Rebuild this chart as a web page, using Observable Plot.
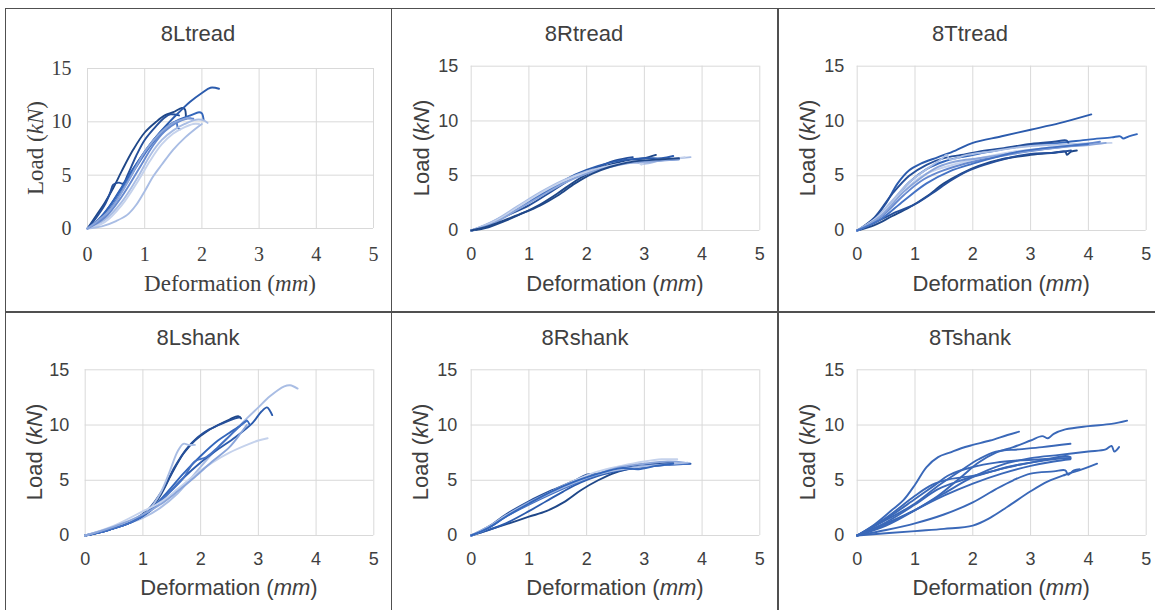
<!DOCTYPE html>
<html><head><meta charset="utf-8">
<script src="https://cdn.jsdelivr.net/npm/d3@7"></script>
<script src="https://cdn.jsdelivr.net/npm/@observablehq/plot@0.6"></script>
<style>
html,body{margin:0;padding:0;background:#fff;}
#root{position:relative;width:1155px;height:610px;overflow:hidden;background:#fff;}
.lbl{position:absolute;white-space:nowrap;line-height:1;color:#404040;font-size:22px;}
.bd{position:absolute;background:#505050;}
</style></head><body><div id="root"></div>
<script>
// ---------- data ----------
const xTicks = [0, 1, 2, 3, 4, 5];
const yTicks = [0, 5, 10, 15];
const panelTitles = ["8Ltread", "8Rtread", "8Ttread", "8Lshank", "8Rshank", "8Tshank"];
const xLabel = "Deformation (<i>mm</i>)";
const yLabel = "Load (<i>kN</i>)";

// each curve: [deformation mm, load kN] pairs
const Ltread = [
  [[0,0],[0.15,1.2],[0.3,2.4],[0.45,3.8],[0.6,5.4],[0.8,7.4],[1.0,9.0],[1.2,10.0],[1.35,10.6],[1.5,10.9],[1.65,11.3],[1.7,11.2],[1.72,10.5]],
  [[0,0],[0.15,1.0],[0.3,2.2],[0.4,3.4],[0.45,4.1],[0.55,4.3],[0.62,4.2],[0.7,5.0],[0.85,6.8],[1.0,8.3],[1.2,9.6],[1.35,10.4],[1.45,10.7],[1.6,10.6]],
  [[0,0],[0.2,0.8],[0.4,2.2],[0.6,3.9],[0.8,5.6],[1.0,7.2],[1.2,8.6],[1.4,9.8],[1.6,10.9],[1.8,11.9],[2.0,12.7],[2.15,13.2],[2.3,13.1]],
  [[0,0],[0.2,0.9],[0.4,2.2],[0.6,3.8],[0.8,5.6],[1.0,7.2],[1.2,8.6],[1.4,9.6],[1.6,10.2],[1.8,10.6],[1.95,10.9],[2.0,10.8],[2.03,10.2]],
  [[0,0],[0.2,0.7],[0.4,1.9],[0.6,3.5],[0.8,5.3],[1.0,7.0],[1.2,8.4],[1.4,9.4],[1.55,10.0],[1.58,9.4],[1.62,9.3]],
  [[0,0],[0.3,0.8],[0.6,2.5],[0.9,5.0],[1.1,6.9],[1.3,8.3],[1.5,9.2],[1.7,9.8],[1.9,10.2],[2.05,10.1],[2.1,9.9]],
  [[0,0],[0.3,0.6],[0.6,2.2],[0.9,4.6],[1.1,6.4],[1.3,7.9],[1.5,8.9],[1.7,9.5],[1.85,9.8],[1.95,9.8]],
  [[0,0],[0.25,0.2],[0.5,0.7],[0.7,1.3],[0.85,2.2],[1.0,3.5],[1.15,4.9],[1.3,6.0],[1.5,7.4],[1.7,8.5],[1.9,9.4],[2.0,9.8]],
  [[0,0],[0.3,1.0],[0.6,3.0],[0.9,5.6],[1.15,7.8],[1.35,9.1],[1.55,9.9],[1.75,10.3],[1.85,10.3]],
  [[0,0],[0.4,1.8],[0.7,4.3],[1.0,7.2],[1.3,9.1],[1.5,9.9],[1.7,10.3],[1.8,10.4]]
];
const Rtread = [
  [[0,0],[0.3,0.3],[0.6,0.9],[0.9,1.6],[1.2,2.4],[1.5,3.4],[1.8,4.5],[2.1,5.4],[2.4,6.0],[2.7,6.4],[3.0,6.6],[3.2,6.9]],
  [[0,0],[0.3,0.5],[0.6,1.3],[1.0,2.3],[1.4,3.6],[1.8,4.9],[2.2,5.8],[2.5,6.4],[2.8,6.7]],
  [[0,0],[0.3,0.6],[0.7,1.7],[1.0,2.6],[1.4,3.9],[1.8,5.1],[2.2,5.9],[2.6,6.4],[3.0,6.6],[3.3,6.6],[3.5,6.8]],
  [[0,0],[0.4,0.8],[0.8,2.0],[1.2,3.2],[1.6,4.4],[2.0,5.3],[2.4,5.9],[2.8,6.3],[3.2,6.4],[3.6,6.5]],
  [[0,0],[0.4,0.9],[0.8,2.2],[1.2,3.5],[1.6,4.6],[2.0,5.4],[2.4,5.9],[2.8,6.2],[3.0,6.1],[3.3,6.4],[3.8,6.7]],
  [[0,0],[0.4,0.8],[0.8,2.1],[1.2,3.4],[1.6,4.5],[2.0,5.3],[2.5,6.0],[2.9,6.3],[2.95,6.0],[3.0,6.3],[3.4,6.5],[3.7,6.7]],
  [[0,0],[0.4,0.7],[0.8,1.9],[1.2,3.1],[1.6,4.3],[2.0,5.2],[2.4,5.8],[2.8,6.2],[3.1,6.3],[3.6,6.5]],
  [[0,0],[0.3,0.4],[0.6,1.0],[0.9,1.6],[1.2,2.3],[1.5,3.2],[1.8,4.3],[2.1,5.2],[2.4,5.8],[2.7,6.2],[3.0,6.4],[3.3,6.5],[3.6,6.6]]
];
const Ttread = [
  [[0,0],[0.25,0.8],[0.5,2.5],[0.7,4.3],[0.9,5.5],[1.1,6.1],[1.4,6.7],[1.7,7.3],[2.0,8.0],[2.5,8.6],[3.0,9.2],[3.5,9.8],[4.05,10.6]],
  [[0,0],[0.3,0.9],[0.6,2.6],[0.9,4.4],[1.2,5.6],[1.5,6.3],[1.8,6.7],[2.1,7.0],[2.5,7.4],[3.0,7.8],[3.5,8.0],[4.0,8.3],[4.4,8.5],[4.55,8.6],[4.6,8.4],[4.7,8.6],[4.84,8.8]],
  [[0,0],[0.3,1.2],[0.6,3.3],[0.9,5.0],[1.2,6.0],[1.5,6.6],[1.8,6.9],[2.1,7.2],[2.5,7.5],[3.0,7.9],[3.4,8.1],[3.63,8.2],[3.66,7.8]],
  [[0,0],[0.3,0.5],[0.6,1.3],[0.9,2.1],[1.2,3.1],[1.5,4.3],[1.8,5.2],[2.1,5.9],[2.5,6.5],[3.0,6.9],[3.4,7.1],[3.6,7.2],[3.63,6.9],[3.7,7.2],[3.8,7.3]],
  [[0,0],[0.3,0.7],[0.6,1.5],[1.0,2.4],[1.3,3.4],[1.6,4.5],[1.9,5.4],[2.2,6.0],[2.6,6.6],[3.0,7.0],[3.4,7.1],[3.7,7.3]],
  [[0,0],[0.3,1.0],[0.6,2.7],[0.9,4.4],[1.2,5.6],[1.45,6.5],[1.55,6.9],[1.6,6.5],[1.9,6.9],[2.3,7.2],[2.8,7.6],[3.3,7.8],[3.8,7.9],[4.2,8.0]],
  [[0,0],[0.4,1.4],[0.8,3.6],[1.1,4.9],[1.4,5.6],[1.8,6.2],[2.2,6.7],[2.7,7.2],[3.2,7.5],[3.7,7.8],[4.4,8.0]],
  [[0,0],[0.4,1.2],[0.8,3.2],[1.1,4.5],[1.4,5.3],[1.8,6.0],[2.2,6.5],[2.7,7.0],[3.2,7.4],[3.7,7.7],[4.2,8.1]],
  [[0,0],[0.4,1.3],[0.8,3.5],[1.1,4.8],[1.4,5.8],[1.7,6.3],[2.1,6.6],[2.5,6.9],[3.0,7.3],[3.5,7.6],[4.0,7.8],[4.3,8.0]],
  [[0,0],[0.4,1.0],[0.8,2.7],[1.2,4.3],[1.6,5.4],[2.0,6.1],[2.4,6.7],[2.8,7.2],[3.2,7.5],[3.6,7.7],[4.0,7.9]]
];
const Lshank = [
  [[0,0],[0.5,0.7],[1.0,1.6],[1.3,2.5],[1.6,3.8],[1.9,5.6],[2.2,7.4],[2.5,9.0],[2.8,10.6],[3.0,11.6],[3.2,12.6],[3.45,13.5],[3.55,13.6],[3.68,13.3]],
  [[0,0],[0.4,0.5],[0.8,1.2],[1.1,2.2],[1.3,3.6],[1.5,5.6],[1.7,7.4],[1.9,8.6],[2.1,9.4],[2.3,10.0],[2.5,10.5],[2.65,10.8],[2.7,10.6]],
  [[0,0],[0.4,0.5],[0.8,1.3],[1.1,2.4],[1.35,4.2],[1.55,6.2],[1.75,7.8],[1.95,8.9],[2.15,9.6],[2.4,10.2],[2.6,10.6],[2.68,10.7]],
  [[0,0],[0.4,0.6],[0.8,1.3],[1.1,2.3],[1.3,3.8],[1.45,5.6],[1.6,7.6],[1.7,8.3],[1.8,8.2],[1.9,8.2]],
  [[0,0],[0.4,0.5],[0.8,1.2],[1.1,2.1],[1.4,3.6],[1.7,5.2],[2.0,6.6],[2.3,7.8],[2.6,8.9],[2.9,10.2],[3.05,11.2],[3.15,11.6],[3.2,11.3],[3.24,10.9]],
  [[0,0],[0.4,0.5],[0.8,1.2],[1.1,2.2],[1.4,3.8],[1.7,5.6],[2.0,7.2],[2.3,8.6],[2.5,9.3],[2.7,10.0],[2.8,10.4],[2.85,10.0]],
  [[0,0],[0.4,0.5],[0.8,1.2],[1.1,2.2],[1.4,3.6],[1.7,5.2],[1.9,6.7],[2.1,7.1],[2.3,8.0],[2.5,9.0],[2.7,10.0],[2.8,10.4]],
  [[0,0],[0.5,0.9],[1.0,2.2],[1.3,3.0],[1.6,4.2],[1.9,5.5],[2.2,6.6],[2.5,7.5],[2.8,8.2],[3.0,8.6],[3.16,8.8]],
  [[0,0],[0.5,0.8],[1.0,1.9],[1.3,2.8],[1.6,4.0],[1.9,5.3],[2.2,6.7],[2.5,8.0],[2.7,9.3],[2.8,10.0]]
];
const Rshank = [
  [[0,0],[0.3,0.5],[0.6,1.0],[1.0,1.7],[1.3,2.2],[1.6,3.0],[1.9,4.1],[2.2,5.0],[2.5,5.7],[2.8,6.1],[3.2,6.4],[3.5,6.6]],
  [[0,0],[0.3,0.5],[0.6,1.1],[1.0,2.2],[1.3,3.1],[1.6,4.0],[1.9,4.8],[2.2,5.4],[2.6,5.9],[3.0,6.2],[3.4,6.4],[3.8,6.5]],
  [[0,0],[0.3,0.8],[0.6,1.9],[1.0,3.1],[1.4,4.1],[1.8,5.0],[2.0,5.5],[2.2,5.6],[2.5,6.0],[2.9,6.4],[3.2,6.5],[3.47,6.6]],
  [[0,0],[0.3,0.7],[0.6,1.7],[1.0,2.9],[1.4,4.0],[1.8,5.0],[2.2,5.8],[2.6,6.3],[3.0,6.7],[3.3,6.9],[3.57,6.9]],
  [[0,0],[0.3,0.7],[0.6,1.8],[1.0,3.0],[1.4,4.0],[1.8,4.9],[2.2,5.6],[2.6,6.2],[3.0,6.5],[3.4,6.7],[3.7,6.6]],
  [[0,0],[0.3,0.7],[0.6,1.7],[1.0,2.8],[1.4,3.8],[1.8,4.7],[2.2,5.5],[2.6,6.0],[3.0,6.3],[3.4,6.4],[3.78,6.5]],
  [[0,0],[0.3,0.8],[0.6,1.8],[1.0,2.9],[1.4,3.9],[1.8,4.8],[2.1,5.4],[2.5,5.9],[2.9,6.2],[3.3,6.4],[3.75,6.6]],
  [[0,0],[0.3,0.7],[0.6,1.7],[1.0,2.9],[1.4,4.0],[1.8,4.9],[2.2,5.6],[2.6,6.1],[2.9,6.0],[3.2,6.3],[3.5,6.5]]
];
const Tshank = [
  [[0,0],[0.3,1.0],[0.6,2.3],[0.8,3.2],[1.0,4.6],[1.2,6.2],[1.4,7.1],[1.6,7.5],[1.8,7.9],[2.0,8.2],[2.3,8.6],[2.6,9.1],[2.8,9.4]],
  [[0,0],[0.5,0.9],[1.0,2.3],[1.4,3.6],[1.8,5.3],[2.1,6.6],[2.4,7.5],[2.7,8.0],[3.0,8.6],[3.2,9.0],[3.3,8.8],[3.4,9.2],[3.6,9.6],[4.0,9.9],[4.4,10.1],[4.67,10.4]],
  [[0,0],[0.5,1.4],[1.0,2.9],[1.4,4.5],[1.8,5.9],[2.1,6.9],[2.4,7.6],[2.8,7.8],[3.2,8.0],[3.69,8.3]],
  [[0,0],[0.5,1.1],[1.0,2.3],[1.5,3.8],[2.0,5.3],[2.5,6.4],[3.0,7.0],[3.5,7.3],[4.0,7.6],[4.3,7.8],[4.4,8.1],[4.45,7.6],[4.53,8.0]],
  [[0,0],[1.0,0.4],[1.5,0.6],[2.0,0.9],[2.3,1.6],[2.6,2.6],[3.0,4.0],[3.3,4.9],[3.6,5.5],[3.9,6.0],[4.15,6.5]],
  [[0,0],[0.5,0.5],[1.0,1.1],[1.5,1.9],[2.0,3.0],[2.4,4.2],[2.7,5.0],[3.0,5.6],[3.4,5.8],[3.6,5.9],[3.65,5.5],[3.75,5.9],[3.85,6.0]],
  [[0,0],[0.5,1.5],[1.0,3.3],[1.3,4.4],[1.6,5.5],[2.0,6.2],[2.4,6.6],[2.8,6.8],[3.2,6.9],[3.5,7.0],[3.69,7.0]],
  [[0,0],[0.5,1.2],[1.0,2.8],[1.4,4.2],[1.8,5.0],[2.2,5.6],[2.6,6.2],[3.0,6.6],[3.4,6.9],[3.69,7.0]],
  [[0,0],[0.5,1.0],[1.0,2.3],[1.5,3.6],[2.0,4.7],[2.5,5.6],[3.0,6.3],[3.4,6.7],[3.69,6.9]],
  [[0,0],[0.5,1.6],[1.0,3.6],[1.3,4.6],[1.6,5.1],[2.0,5.4],[2.4,5.9],[2.8,6.4],[3.2,6.8],[3.6,7.2],[3.69,7.1]]
];

// ---------- styles ----------
const C = {d1:"#1f4788", d2:"#254f9a", m1:"#2b5bad", m2:"#3366bb", m3:"#4472c4", l1:"#6689cf", l2:"#8aa5da", l3:"#a9bde4", l4:"#c5d2ec"};
const colLtread = [C.d1, C.d2, C.m1, C.m2, C.m3, C.l3, C.l4, C.l3, C.l1, C.l2];
const colRtread = [C.d1, C.d2, C.m1, C.m3, C.l3, C.l4, C.l2, C.d1];
const colTtread = [C.m1, C.m2, C.d2, C.d1, C.d2, C.l3, C.l4, C.l1, C.l2, C.m3];
const colLshank = [C.l3, C.d1, C.d2, C.l3, C.m1, C.m2, C.m3, C.l4, C.l2];
const colRshank = [C.d1, C.m1, C.d2, C.l4, C.l2, C.m3, C.l3, C.m2];
const colTshank = Tshank.map(() => "#3a68b8");

const sans = "'Liberation Sans', Arial, sans-serif";
const serif = "'Liberation Serif', 'Times New Roman', serif";

const layout = [
  {data: Ltread, col: colLtread, font: serif, tick: 20, lab: 23, left: 6, top: 9, w: 385, h: 302, x0: 87, x5: 373, y15: 68, y0: 228, ylx: 35, tcx: 198, tb: 41.5, xb: 291.5, padX: 18, padY: 16},
  {data: Rtread, col: colRtread, font: sans, tick: 18, lab: 22, left: 392, top: 9, w: 385, h: 302, x0: 470.7, x5: 759.3, y15: 65.7, y0: 230, ylx: 422, tcx: 584, tb: 41.5, xb: 291.5, padX: 17, padY: 13},
  {data: Ttread, col: colTtread, font: sans, tick: 18, lab: 22, left: 779, top: 9, w: 376, h: 302, x0: 856.7, x5: 1145.7, y15: 65.7, y0: 230, ylx: 807.7, tcx: 970, tb: 41.5, xb: 291.5, padX: 17, padY: 13},
  {data: Lshank, col: colLshank, font: sans, tick: 18, lab: 22, left: 6, top: 313, w: 385, h: 297, x0: 84.7, x5: 373.3, y15: 369.3, y0: 535, ylx: 35, tcx: 198, tb: 345.5, xb: 595.5, padX: 17, padY: 16},
  {data: Rshank, col: colRshank, font: sans, tick: 18, lab: 22, left: 392, top: 313, w: 385, h: 297, x0: 470.7, x5: 759.3, y15: 369.3, y0: 535, ylx: 421, tcx: 585, tb: 345.5, xb: 595.5, padX: 17, padY: 14},
  {data: Tshank, col: colTshank, font: sans, tick: 18, lab: 22, left: 779, top: 313, w: 376, h: 297, x0: 856.7, x5: 1145.7, y15: 369.3, y0: 535, ylx: 807.5, tcx: 970, tb: 345.5, xb: 595.5, padX: 17, padY: 13}
];

const root = document.getElementById("root");

function border(l, t, w, h) {
  const d = document.createElement("div");
  d.className = "bd";
  Object.assign(d.style, {left: l + "px", top: t + "px", width: w + "px", height: h + "px"});
  root.appendChild(d);
}
border(4.5, 7.5, 1151, 1.5);
border(4.5, 7.5, 1.5, 603);
border(390.8, 7.5, 1.5, 603);
border(777.3, 7.5, 1.5, 603);
border(4.5, 311.3, 1151, 1.5);

function label(html, font, size, cx, cy, mode) {
  const d = document.createElement("div");
  d.className = "lbl";
  d.innerHTML = html;
  d.style.fontFamily = font;
  d.style.fontSize = size + "px";
  const asc = font === serif ? 0.8375 : 0.8465;
  if (mode === "rot") {
    Object.assign(d.style, {left: cx + "px", top: cy + "px", transform: "translate(-50%,-50%) rotate(-90deg)"});
  } else {
    Object.assign(d.style, {left: cx + "px", top: (cy - asc * size) + "px", transform: "translateX(-50%)"});
  }
  root.appendChild(d);
}

layout.forEach((p, k) => {
  const rows = p.data.flatMap((curve, i) => curve.map(([x, y]) => ({s: i, x, y, c: p.col[i]})));
  const chart = Plot.plot({
    width: p.w, height: p.h,
    marginLeft: p.x0 - p.left, marginRight: p.left + p.w - p.x5,
    marginTop: p.y15 - p.top, marginBottom: p.top + p.h - p.y0,
    x: {domain: [0, 5]}, y: {domain: [0, 15]},
    color: {type: "identity"},
    style: {fontFamily: p.font, fontSize: p.tick + "px", color: "#404040", background: "transparent", overflow: "visible"},
    marks: [
      Plot.gridX(xTicks, {stroke: "#d9d9d9", strokeOpacity: 1, strokeWidth: 1}),
      Plot.gridY(yTicks, {stroke: "#d9d9d9", strokeOpacity: 1, strokeWidth: 1}),
      Plot.axisX(xTicks, {tickSize: 0, tickPadding: p.padX, label: null}),
      Plot.axisY(yTicks, {tickSize: 0, tickPadding: p.padY, label: null}),
      Plot.line(rows, {x: "x", y: "y", z: "s", stroke: "c", strokeWidth: 1.9, curve: "catmull-rom", strokeLinejoin: "round", strokeLinecap: "round"})
    ]
  });
  Object.assign(chart.style, {position: "absolute", left: p.left + "px", top: p.top + "px"});
  root.appendChild(chart);
  label(panelTitles[k], sans, 22, p.tcx, p.tb, "h");
  label(xLabel, p.font, p.lab, (p.x0 + p.x5) / 2, p.xb, "h");
  label(yLabel, p.font, p.lab, p.ylx, (p.y15 + p.y0) / 2, "rot");
});
</script></body></html>
